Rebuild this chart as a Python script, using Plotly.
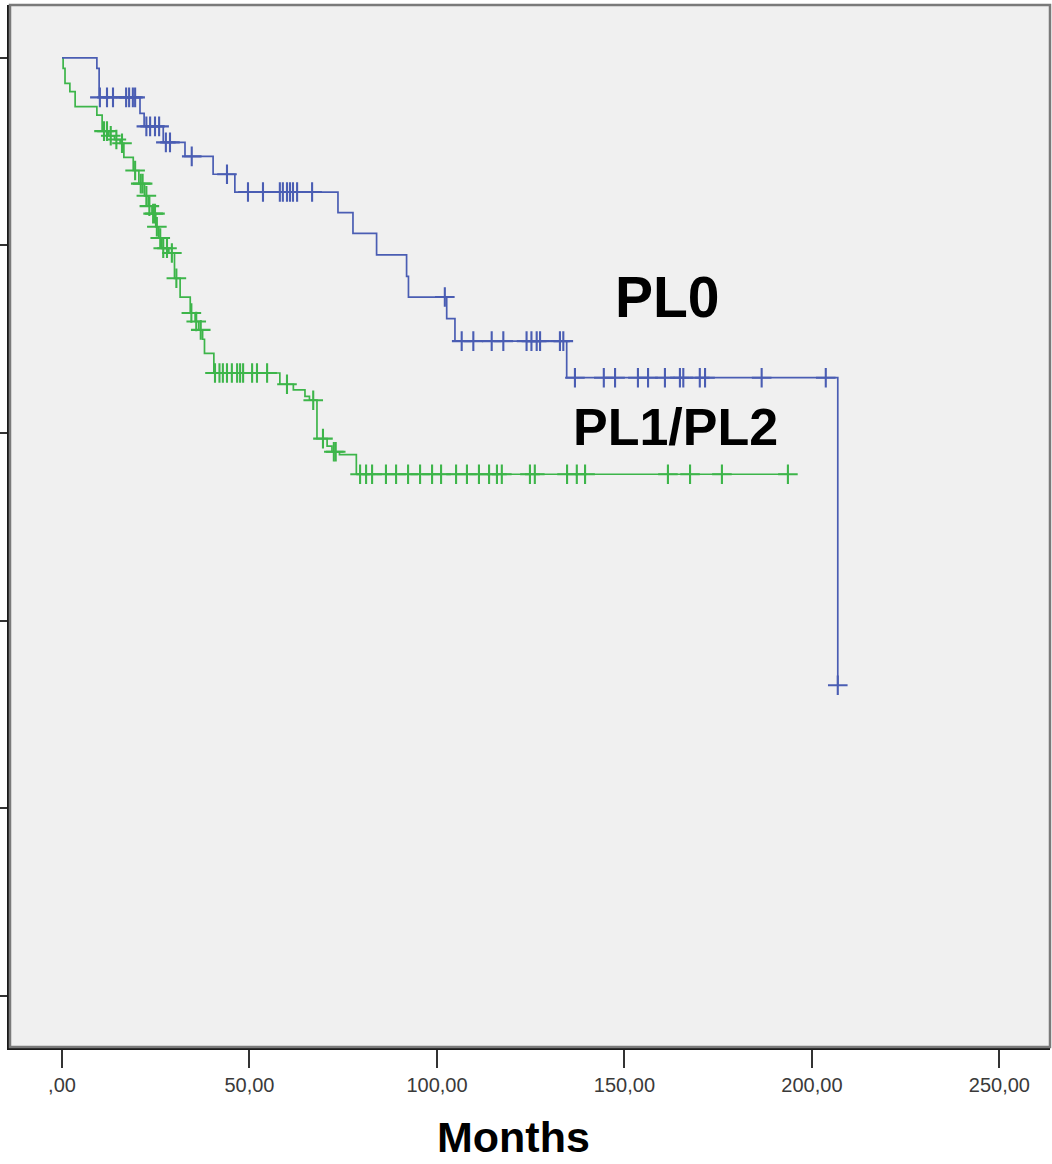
import numpy as np
import plotly.graph_objects as go

# Kaplan-Meier survival by PL group: event times (months) and survival after each event
pl0_event_t = [9.3, 9.9, 20.8, 21.9, 27.0, 32.8, 40.3, 46.1, 73.6, 77.6, 83.9,
               91.9, 92.4, 102.6, 104.8, 134.6, 206.9]
pl0_event_s = [0.989, 0.958, 0.941, 0.927, 0.910, 0.895, 0.876, 0.857, 0.835,
               0.813, 0.790, 0.767, 0.745, 0.722, 0.698, 0.659, 0.331]
pl0_censored = [10.1, 12.0, 13.6, 17.1, 17.9, 18.9, 19.5, 22.5, 23.5, 24.8, 25.9,
                27.7, 28.8, 34.6, 44.0, 49.6, 53.6, 58.1, 58.9, 60.0, 60.8, 61.6,
                62.7, 66.7, 102.1, 106.6, 109.7, 114.6, 117.7, 123.9, 125.2, 126.6,
                127.5, 132.8, 133.7, 136.8, 144.5, 147.5, 153.6, 156.3, 160.8,
                164.8, 165.7, 170.1, 171.5, 186.6, 203.7, 206.9]

pl12_event_t = [0.3, 0.8, 2.1, 3.5, 9.3, 10.7, 12.5, 14.0, 15.5, 16.5, 19.0, 20.5,
                22.0, 23.0, 24.0, 25.0, 25.8, 26.6, 28.5, 30.0, 31.5, 34.2, 35.5,
                36.5, 37.5, 38.0, 40.5, 58.1, 61.7, 64.8, 66.0, 68.0, 70.7, 72.0,
                74.0, 78.5]
pl12_event_s = [0.989, 0.973, 0.964, 0.948, 0.939, 0.922, 0.917, 0.913, 0.909,
                0.894, 0.880, 0.866, 0.853, 0.842, 0.834, 0.820, 0.808, 0.797,
                0.792, 0.765, 0.745, 0.728, 0.719, 0.710, 0.700, 0.685, 0.664,
                0.652, 0.646, 0.639, 0.635, 0.594, 0.586, 0.580, 0.577, 0.556]
pl12_censored = [11.2, 12.0, 13.0, 14.5, 16.0, 19.5, 21.0, 21.5, 22.5, 23.3, 24.3,
                 24.8, 25.3, 26.2, 27.0, 28.0, 29.3, 30.5, 34.5, 35.8, 37.0, 40.8,
                 42.0, 42.9, 44.0, 45.3, 46.7, 47.5, 48.3, 50.7, 52.0, 54.7, 60.0,
                 67.0, 69.6, 72.5, 73.0, 79.5, 81.1, 82.7, 86.4, 89.1, 92.3, 95.5,
                 98.7, 101.1, 105.1, 108.0, 111.2, 113.9, 116.0, 117.3, 124.8,
                 126.1, 134.7, 137.3, 139.5, 161.6, 167.5, 176.0, 193.6]

x_tick_vals = [0, 50, 100, 150, 200, 250]
x_tick_text = [",00", "50,00", "100,00", "150,00", "200,00", "250,00"]
y_tick_vals = [0.0, 0.2, 0.4, 0.6, 0.8, 1.0]

BLUE = "#4a5db3"
GREEN = "#3db54a"
FONT = "Liberation Sans, Arial"


def step_curve(event_t, event_s, last_t):
    xs = [0.0] + list(event_t)
    ys = [1.0] + list(event_s)
    if last_t > xs[-1]:
        xs.append(last_t)
        ys.append(ys[-1])
    return xs, ys


def survival_at(t_values, event_t, event_s):
    et = np.asarray(event_t)
    es = np.concatenate([[1.0], np.asarray(event_s)])
    idx = np.searchsorted(et, np.asarray(t_values), side="right")
    return es[idx]


fig = go.Figure()

for ev_t, ev_s, cens, color in [
    (pl12_event_t, pl12_event_s, pl12_censored, GREEN),
    (pl0_event_t, pl0_event_s, pl0_censored, BLUE),
]:
    xs, ys = step_curve(ev_t, ev_s, max(cens))
    fig.add_trace(go.Scatter(
        x=xs, y=ys, mode="lines", line=dict(color=color, width=1.7, shape="hv"),
        hoverinfo="skip", showlegend=False,
    ))
    fig.add_trace(go.Scatter(
        x=cens, y=survival_at(cens, ev_t, ev_s), mode="markers",
        marker=dict(symbol="cross-thin", size=14, line=dict(color=color, width=2.1)),
        showlegend=False,
    ))

fig.add_annotation(x=161.6, y=0.745, text="<b>PL0</b>", showarrow=False,
                   font=dict(family=FONT, size=57, color="black"))
fig.add_annotation(x=163.7, y=0.606, text="<b>PL1/PL2</b>", showarrow=False,
                   font=dict(family=FONT, size=52, color="black"))
fig.add_annotation(xref="paper", yref="paper", x=0.4846, y=-0.0864, text="<b>Months</b>",
                   showarrow=False, yanchor="middle",
                   font=dict(family=FONT, size=43, color="black"))

# frame around the plotting area
fig.add_shape(type="rect", xref="paper", yref="paper", x0=0, y0=0, x1=1, y1=1,
              line=dict(color="#7a7a7a", width=2.5), layer="above")

fig.update_xaxes(
    range=[-13.87, 263.5], tickvals=x_tick_vals, ticktext=x_tick_text,
    ticks="outside", ticklen=18, tickwidth=2, tickcolor="#333333",
    showline=True, linecolor="#1a1a1a", linewidth=2.5, mirror=False,
    showgrid=False, zeroline=False,
    tickfont=dict(family=FONT, size=20, color="#3a3a3a"),
)
fig.update_yaxes(
    range=[-0.0549, 1.0565], tickvals=y_tick_vals, showticklabels=False,
    ticks="outside", ticklen=7, tickwidth=2, tickcolor="#333333",
    showline=True, linecolor="#1a1a1a", linewidth=2.5,
    showgrid=False, zeroline=False,
)

fig.update_layout(
    width=1052, height=1164,
    margin=dict(l=10, r=2, t=5, b=117),
    plot_bgcolor="#f0f0f0", paper_bgcolor="white",
    showlegend=False,
)

fig.write_html("out.html")
